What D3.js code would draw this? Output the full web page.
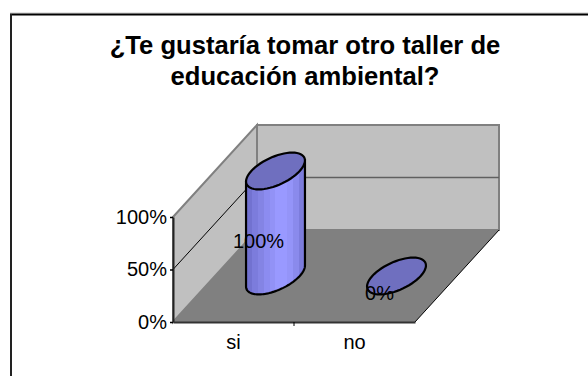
<!DOCTYPE html>
<html>
<head>
<meta charset="utf-8">
<script src="https://cdn.jsdelivr.net/npm/d3@7"></script>
<style>
html, body { margin: 0; padding: 0; background: #fff; }
svg { display: block; }
text { font-family: "Liberation Sans", Arial, sans-serif; fill: #000; }
</style>
</head>
<body>
<div id="chart"></div>
<script>
// data
var categories = ["si", "no"];
var values = [1, 0];
var valueTicks = [0, 0.5, 1];
var titleLines = ["¿Te gustaría tomar otro taller de", "educación ambiental?"];

var w = 588;
var h = 376;

// front face of the 3d box and the depth offset to the back wall
var left = 173, right = 415, bottom = 322, top3d = 217;
var depthX = 84, depthY = -92;
var radius = 0.2; // cylinder radius as share of band / depth

var x = d3.scaleBand().domain(categories).range([left, right]);
var y = d3.scaleLinear().domain([0, 1]).range([bottom, top3d]);
var fmt = d3.format(".0%");

var svg = d3.select("#chart").append("svg").attr("width", w).attr("height", h);

// bar gradient, stepped like the original
var bands = ["#7272d0", "#7c7cdc", "#8484e4", "#8c8cf0", "#9292f6", "#9999ff", "#9999ff", "#9494f8", "#8a8aec", "#7c7cdc"];
var grad = svg.append("defs").append("linearGradient").attr("id", "barFill");
bands.forEach(function(c, i) {
	grad.append("stop").attr("offset", i / bands.length).attr("stop-color", c);
	grad.append("stop").attr("offset", (i + 1) / bands.length).attr("stop-color", c);
});

// chart frame, only top and left are inside the picture
svg.append("line").attr("x1", 10).attr("y1", 13).attr("x2", w).attr("y2", 13).attr("stroke", "#c8c8c8");
svg.append("line").attr("x1", 10).attr("y1", 14.5).attr("x2", w).attr("y2", 14.5).attr("stroke", "#000").attr("stroke-width", 2);
svg.append("line").attr("x1", 11).attr("y1", 14).attr("x2", 11).attr("y2", h).attr("stroke", "#222").attr("stroke-width", 2);

svg.selectAll(".title").data(titleLines).enter().append("text")
	.attr("class", "title")
	.attr("x", 305)
	.attr("y", function(d, i) { return 53.5 + i * 31; })
	.attr("text-anchor", "middle")
	.attr("font-size", "25.6px")
	.attr("font-weight", "bold")
	.text(function(d) { return d; });

function poly(points) { return "M" + points.map(function(p) { return p.join(","); }).join("L") + "Z"; }

// walls and floor
svg.append("path")
	.attr("d", poly([[left + depthX, top3d + depthY], [right + depthX, top3d + depthY], [right + depthX, bottom + depthY], [left + depthX, bottom + depthY]]))
	.attr("fill", "#c0c0c0").attr("stroke", "#808080").attr("stroke-width", 2);
svg.append("path")
	.attr("d", poly([[left, top3d], [left + depthX, top3d + depthY], [left + depthX, bottom + depthY], [left, bottom]]))
	.attr("fill", "#c0c0c0").attr("stroke", "#808080").attr("stroke-width", 2);
svg.append("path")
	.attr("d", poly([[left, bottom], [right, bottom], [right + depthX, bottom + depthY], [left + depthX, bottom + depthY]]))
	.attr("fill", "#808080");

// gridlines on the walls
valueTicks.filter(function(d) { return d > 0 && d < 1; }).forEach(function(d) {
	svg.append("line").attr("x1", left).attr("y1", y(d))
		.attr("x2", left + depthX).attr("y2", y(d) + depthY)
		.attr("stroke", "#000").attr("stroke-width", 1);
	svg.append("line").attr("x1", left + depthX).attr("y1", y(d) + depthY)
		.attr("x2", right + depthX).attr("y2", y(d) + depthY)
		.attr("stroke", "#606060").attr("stroke-width", 1.5);
});

// floor edge on the right
svg.append("line").attr("x1", right).attr("y1", bottom)
	.attr("x2", right + depthX).attr("y2", bottom + depthY)
	.attr("stroke", "#000").attr("stroke-width", 1);

// axes
var yAxis = d3.axisLeft(y).tickValues(valueTicks).tickFormat(fmt).tickSize(3).tickPadding(3).tickSizeOuter(0);
var gy = svg.append("g").attr("transform", "translate(" + left + ",0)").call(yAxis);
var xAxis = d3.axisBottom(x).tickSize(0).tickPadding(13);
var gx = svg.append("g").attr("transform", "translate(0," + bottom + ")").call(xAxis);
gy.selectAll("text").attr("font-size", "20px").attr("font-family", null);
gx.selectAll("text").attr("font-size", "20px").attr("font-family", null);
gy.selectAll("line").attr("stroke", "#000").attr("stroke-width", 1.5);
gy.selectAll("path").attr("stroke", "#222").attr("stroke-width", 2);
gx.selectAll("path").attr("stroke", "#333").attr("stroke-width", 2);
gx.selectAll(".sep").data([right - x.bandwidth()]).enter().append("line")
	.attr("class", "sep").attr("x1", function(d) { return d; }).attr("x2", function(d) { return d; })
	.attr("y1", 0).attr("y2", 4).attr("stroke", "#000");

// cylinders: a circle on the floor plane becomes a tilted ellipse
var ux = x.bandwidth() * radius, vx = depthX * radius, vy = depthY * radius;
var tSide = Math.atan2(vx, ux);

function ringPoint(cx, cy, t) {
	return [cx + Math.cos(t) * ux + Math.sin(t) * vx, cy + Math.sin(t) * vy];
}
function arc(cx, cy, t0, t1) {
	return d3.range(0, 61).map(function(i) { return ringPoint(cx, cy, t0 + (t1 - t0) * i / 60); });
}
var line = d3.line();

var bars = svg.selectAll(".bar").data(categories).enter().append("g").attr("class", "bar");
bars.each(function(d, i) {
	var g = d3.select(this);
	var cx = x(d) + x.bandwidth() / 2 + depthX / 2;
	var cy0 = bottom + depthY / 2;
	var cy1 = y(values[i]) + depthY / 2;
	if (values[i] > 0) {
		// side: right edge of top, down, front half of the base, back up
		var lower = arc(cx, cy0, tSide, tSide - Math.PI);
		var pts = [ringPoint(cx, cy1, tSide)].concat(lower).concat([ringPoint(cx, cy1, tSide - Math.PI)]);
		g.append("path").attr("d", line(pts) + "Z")
			.attr("fill", "url(#barFill)").attr("stroke", "#000").attr("stroke-width", 2.2);
	}
	g.append("path").attr("d", line(arc(cx, cy1, 0, Math.PI * 2)) + "Z")
		.attr("fill", "#6f6fbf").attr("stroke", "#000").attr("stroke-width", 2.2);
});

// data labels
svg.selectAll(".label").data(categories).enter().append("text")
	.attr("class", "label")
	.attr("x", function(d) { return x(d) + x.bandwidth() / 2 + 25; })
	.attr("y", function(d, i) { return y(values[i] / 2) - 29; })
	.attr("dy", "0.35em")
	.attr("text-anchor", "middle")
	.attr("font-size", "20px")
	.text(function(d, i) { return fmt(values[i]); });
</script>
</body>
</html>
